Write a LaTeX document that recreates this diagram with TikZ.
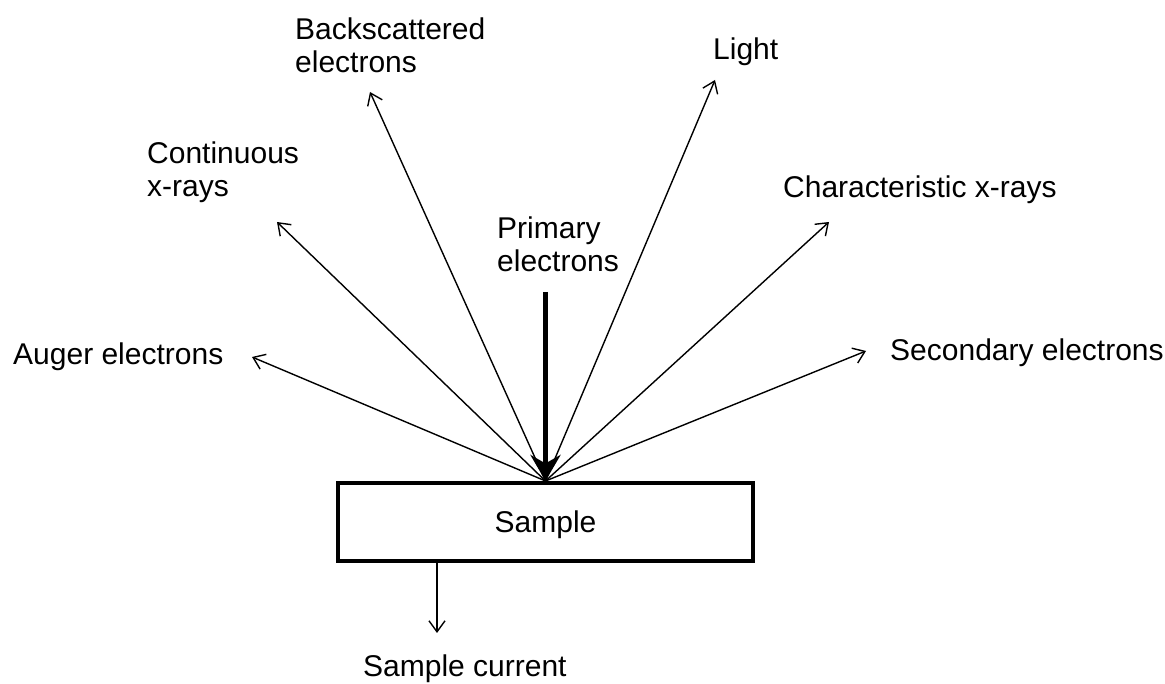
\documentclass[tikz,border=0pt]{standalone}
\usepackage{fontspec}
\setmainfont{Liberation Sans}
\usetikzlibrary{arrows.meta}

\begin{document}
\begin{tikzpicture}[x=1pt,y=1pt,
    lbl/.style={inner sep=0pt,anchor=base west,align=left,font=\fontsize{30}{33}\selectfont},
    ray/.style={-{Straight Barb[length=11pt,width=16pt]},line width=1.4pt},
    beam/.style={-{Stealth[length=26pt,width=30pt]},line width=5.5pt},
    samplebox/.style={rectangle,draw,line width=4pt,minimum width=415pt,minimum height=78pt,text height=22pt,text depth=0pt,font=\fontsize{30}{33}\selectfont}
]
\useasboundingbox (0,0) rectangle (1165,684);

\node[samplebox] (sample) at (545.5,162) {Sample};
\coordinate (o) at (sample.north);

\coordinate (auger) at (252,327);
\coordinate (cont) at (277,462);
\coordinate (back) at (370,592);
\coordinate (light) at (715,604);
\coordinate (char) at (829,462);
\coordinate (sec) at (866,333);
\coordinate (prim) at (545.5,392);
\coordinate (curtop) at (sample.south -| 437,0);
\coordinate (cur) at (437,51);

\node[lbl] (lauger) at (13,319) {Auger electrons};
\node[lbl] (lcont) at (147,487) {Continuous\\x-rays};
\node[lbl] (lback) at (295,611) {Backscattered\\electrons};
\node[lbl] (llight) at (713,624) {Light};
\node[lbl] (lprim) at (497,412) {Primary\\electrons};
\node[lbl] (lchar) at (783,486) {Characteristic x-rays};
\node[lbl] (lsec) at (890,323) {Secondary electrons};
\node[lbl] (lcur) at (363,7) {Sample current};

\draw[ray] (o) -- (auger);
\draw[ray] (o) -- (cont);
\draw[ray] (o) -- (back);
\draw[ray] (o) -- (light);
\draw[ray] (o) -- (char);
\draw[ray] (o) -- (sec);
\draw[beam] (prim) -- (o);
\draw[ray] (curtop) -- (cur);
\end{tikzpicture}
\end{document}
